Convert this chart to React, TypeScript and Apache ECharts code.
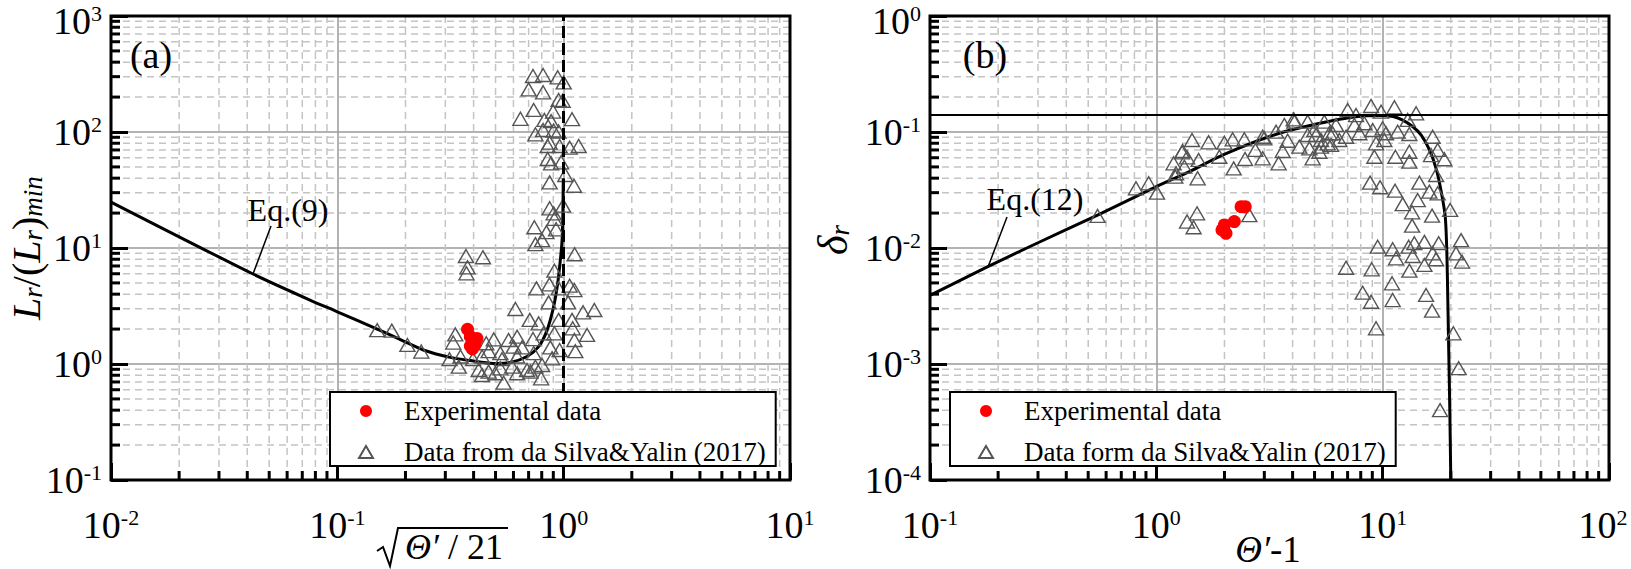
import React, { useEffect, useRef } from 'react';
import * as echarts from 'echarts';

const FONT = '"Liberation Serif", "Times New Roman", serif';

// ---------- Panel (a) ----------
const xRangeA = [0.01, 10];
const yRangeA = [0.1, 1000];
const curveA: [number, number][] = [
  [0.01, 24.9], [0.0424, 5.97], [0.0757, 3.56], [0.1, 2.82], [0.15, 2.0], [0.189, 1.63],
  [0.24, 1.32], [0.315, 1.14], [0.386, 1.07], [0.489, 1.01], [0.58, 1.03], [0.689, 1.16],
  [0.775, 1.41], [0.845, 1.96], [0.903, 3.12], [0.941, 4.97], [0.967, 7.9], [0.984, 11.7],
  [0.992, 20], [0.996, 40],
];
const expA: [number, number][] = [
  [0.376, 1.99], [0.387, 1.72], [0.4, 1.61], [0.414, 1.66], [0.407, 1.49], [0.387, 1.43], [0.395, 1.35],
];
const silvaA: [number, number][] = [
  [0.732, 304], [0.811, 310], [0.941, 296], [1.0, 268], [0.7, 233], [0.811, 220], [0.95, 189],
  [0.99, 186], [0.737, 155], [0.644, 130], [0.898, 150], [0.822, 127], [0.88, 124], [1.089, 129],
  [0.811, 104], [0.75, 95.5], [0.903, 103], [0.95, 101], [0.867, 80.9], [0.85, 75.7], [0.96, 75.7],
  [1.063, 73.2], [1.165, 75.7], [0.85, 58.5], [0.88, 53.7], [0.974, 54.8], [1.017, 42.6], [0.867, 36.8],
  [1.111, 34.4], [0.867, 22.0], [0.903, 19.9], [0.994, 23.2], [0.91, 17.8], [0.742, 15.1], [0.839, 13.7],
  [0.926, 14.5], [0.803, 11.7], [0.75, 10.8], [1.118, 8.83], [0.37, 8.53], [0.44, 8.32], [0.376, 6.82],
  [0.372, 6.05], [0.91, 6.37], [0.758, 4.49], [0.865, 4.86], [0.95, 4.49], [1.063, 4.73], [1.115, 4.34],
  [0.858, 3.4], [1.046, 3.4], [0.612, 2.98], [1.218, 2.79], [1.366, 2.92], [0.708, 2.4], [0.775, 2.24],
  [0.95, 2.4], [1.089, 2.4], [1.096, 2.03], [0.91, 1.84], [0.816, 1.84], [1.269, 1.78], [1.115, 1.61],
  [0.732, 1.64], [0.623, 1.72], [0.571, 1.61], [0.491, 1.63], [0.332, 1.8], [0.325, 1.53], [0.455, 1.51],
  [0.601, 1.41], [0.655, 1.39], [0.873, 1.39], [0.96, 1.32], [1.126, 1.29], [0.466, 1.29], [0.525, 1.24],
  [0.737, 1.24], [0.313, 1.1], [0.35, 1.16], [0.398, 1.1], [0.436, 1.16], [0.534, 1.1], [0.623, 1.16],
  [0.889, 1.12], [0.344, 0.948], [0.421, 0.888], [0.466, 0.859], [0.525, 0.918], [0.592, 0.948],
  [0.689, 0.888], [0.75, 0.948], [0.803, 0.98], [0.436, 0.804], [0.499, 0.832], [0.623, 0.832],
  [0.543, 0.69], [0.795, 0.753], [0.713, 0.859], [0.15, 1.96], [0.174, 1.94], [0.204, 1.46], [0.235, 1.28],
];
const asymptoteA = 1;

// ---------- Panel (b) ----------
const xRangeB = [0.1, 100];
const yRangeB = [0.0001, 1];
const curveB: [number, number][] = [
  [0.1, 0.0039], [0.18, 0.0069], [0.3, 0.0111], [0.55, 0.0192], [1.0, 0.0338], [1.4, 0.0455],
  [1.96, 0.0633], [3.5, 0.0975], [6.44, 0.1286], [8.45, 0.138], [9.67, 0.139], [11.1, 0.136],
  [12.2, 0.127], [13.6, 0.111], [14.8, 0.094], [16.1, 0.07], [17.3, 0.047], [18.2, 0.0296],
  [18.9, 0.0186], [19.2, 0.0096], [19.4, 0.0036], [19.6, 0.0012], [19.8, 0.0004], [20.0, 0.0001],
];
const expB: [number, number][] = [
  [2.368, 0.0227], [2.47, 0.0227], [2.211, 0.0169], [1.998, 0.0158], [2.032, 0.0134], [1.951, 0.0143],
];
const silvaB: [number, number][] = [
  [1.438, 0.0853], [1.702, 0.0815], [1.299, 0.0668], [1.367, 0.0605], [1.192, 0.0537], [1.538, 0.0574],
  [1.33, 0.0502], [1.213, 0.0412], [1.522, 0.0399], [0.813, 0.0327], [0.925, 0.0361], [1.007, 0.03],
  [0.55, 0.0189], [1.513, 0.0199], [1.367, 0.0169], [1.461, 0.0151], [1.307, 0.0686], [1.222, 0.0441],
  [1.998, 0.0809], [2.174, 0.0865], [2.448, 0.0865], [1.898, 0.0612], [2.196, 0.0486], [2.466, 0.0585],
  [2.739, 0.07], [2.95, 0.0593], [3.001, 0.0882], [3.381, 0.1006], [3.47, 0.0537], [3.615, 0.0686],
  [3.804, 0.0841], [4.072, 0.1227], [4.284, 0.0747], [4.662, 0.1227], [4.744, 0.0723], [4.905, 0.0593],
  [5.078, 0.0942], [5.343, 0.0853], [5.526, 0.1227], [5.715, 0.0799], [6.012, 0.0975], [6.223, 0.115],
  [5.251, 0.0676], [2.576, 0.0192], [2.95, 0.091], [3.678, 0.115], [4.044, 0.1286], [4.662, 0.0942],
  [4.991, 0.104], [5.815, 0.0975], [5.915, 0.0773], [5.343, 0.0747], [6.437, 0.0853], [7.004, 0.1548],
  [7.627, 0.14], [7.5, 0.115], [8.299, 0.119], [8.888, 0.1676], [9.838, 0.1496], [11.27, 0.1633],
  [14.05, 0.145], [6.891, 0.091], [7.889, 0.0975], [9.034, 0.104], [10.0, 0.1076], [10.35, 0.0975],
  [11.65, 0.1006], [12.9, 0.127], [13.12, 0.0961], [9.35, 0.0799], [10.17, 0.0853], [9.19, 0.0612],
  [11.38, 0.0612], [13.12, 0.0676], [13.12, 0.0555], [16.63, 0.091], [17.5, 0.07], [18.74, 0.0582],
  [16.36, 0.0633], [8.798, 0.0366], [9.739, 0.0334], [11.34, 0.0312], [14.53, 0.0366], [17.22, 0.0426],
  [16.08, 0.0306], [12.26, 0.0239], [14.28, 0.0259], [17.5, 0.0296], [13.49, 0.0203], [16.53, 0.019],
  [19.86, 0.0213], [13.49, 0.0156], [9.504, 0.01026], [11.07, 0.00975], [11.46, 0.00815], [13.03, 0.01026],
  [13.8, 0.011], [15.29, 0.0113], [17.68, 0.011], [16.63, 0.009], [15.29, 0.00714], [13.57, 0.00853],
  [13.12, 0.00637], [17.22, 0.008], [22.2, 0.0117], [21.1, 0.009], [22.43, 0.00762], [6.891, 0.00676],
  [8.94, 0.00655], [11.0, 0.00496], [8.16, 0.00412], [15.55, 0.00394], [8.888, 0.00344], [11.07, 0.00356],
  [16.53, 0.00288], [9.35, 0.00203], [20.53, 0.00184], [21.67, 0.00092], [17.93, 0.0004],
];
const limitB = 0.14;

// ---------- grid / ticks ----------
const MINOR = [2, 3, 4, 5, 6, 7, 8, 9];
const decadesXA = [0.01, 0.1, 1];
const decadesYA = [0.1, 1, 10, 100];
const decadesXB = [0.1, 1, 10];
const decadesYB = [0.0001, 0.001, 0.01, 0.1];

const GRID_A = { left: 111, top: 16, width: 679, height: 464 };
const GRID_B = { left: 930, top: 16, width: 679, height: 464 };

const NAME_A = 'Experimental data';
const SILVA_A = 'Data from da Silva&Yalin (2017)';
const SILVA_B = 'Data form da Silva&Yalin (2017)';

const minorVals = (decades: number[]) =>
  decades.flatMap((d) => MINOR.map((m) => +(m * d).toPrecision(3)));

const minorData = (dx: number[], dy: number[], xMin: number, yMin: number) => [
  ...minorVals(dx).map((v) => [v, yMin, 0]),
  ...minorVals(dy).map((v) => [xMin, v, 1]),
];

const renderMinor = (params: any, api: any) => {
  const cs = params.coordSys;
  const p = api.coord([api.value(0), api.value(1)]);
  const dash = { stroke: '#c4c4c4', lineWidth: 1.5, lineDash: [7, 5], fill: 'none' };
  const tick = { stroke: '#000', lineWidth: 3, fill: 'none' };
  if (api.value(2) === 0) {
    const x = p[0];
    const yb = cs.y + cs.height;
    return {
      type: 'group',
      children: [
        { type: 'line', shape: { x1: x, y1: cs.y, x2: x, y2: yb }, style: dash },
        { type: 'line', shape: { x1: x, y1: yb, x2: x, y2: yb - 9 }, style: tick },
      ],
    };
  }
  const y = p[1];
  return {
    type: 'group',
    children: [
      { type: 'line', shape: { x1: cs.x, y1: y, x2: cs.x + cs.width, y2: y }, style: dash },
      { type: 'line', shape: { x1: cs.x, y1: y, x2: cs.x + 9, y2: y }, style: tick },
    ],
  };
};

const expOf = (v: number) => Math.round(Math.log10(v));

// the top label of a y axis is nudged down, the right-most x label nudged left
const powLabel = (edgeValue: number | null, isX: boolean) => (v: number) => {
  const e = expOf(v);
  if (edgeValue !== null && e === expOf(edgeValue)) {
    return isX ? `{br|10}{sr|${e}}` : `{bt|10}{st|${e}}`;
  }
  return `{b|10}{s|${e}}`;
};

const labelRich = {
  b: { fontFamily: FONT, fontSize: 38, color: '#000' },
  s: { fontFamily: FONT, fontSize: 22, color: '#000', padding: [0, 0, 16, 0] },
  bt: { fontFamily: FONT, fontSize: 38, color: '#000', padding: [10, 0, 0, 0] },
  st: { fontFamily: FONT, fontSize: 22, color: '#000', padding: [0, 0, 6, 0] },
  br: { fontFamily: FONT, fontSize: 38, color: '#000' },
  sr: { fontFamily: FONT, fontSize: 22, color: '#000', padding: [0, 12, 16, 0] },
};

const logAxis = (gridIndex: number, range: number[], isX: boolean, nudgeEdge: boolean) => ({
  type: 'log',
  logBase: 10,
  gridIndex,
  min: range[0],
  max: range[1],
  axisLine: { show: false },
  axisTick: { show: true, inside: true, length: 17, lineStyle: { color: '#000', width: 3 } },
  axisLabel: {
    show: true,
    margin: isX ? 26 : 9,
    formatter: powLabel(nudgeEdge ? range[1] : null, isX),
    rich: labelRich,
    showMinLabel: true,
    showMaxLabel: true,
  },
  splitLine: { show: true, lineStyle: { color: '#9a9a9a', width: 1.5 } },
  minorTick: { show: false },
  minorSplitLine: { show: false },
});

const legendBase = {
  orient: 'vertical',
  itemWidth: 14,
  itemHeight: 12,
  itemGap: 13,
  padding: [5, 10, 0, 28],
  borderColor: '#000',
  borderWidth: 2,
  backgroundColor: '#fff',
  selectedMode: false,
  textStyle: { fontFamily: FONT, fontSize: 27, color: '#000', lineHeight: 28, padding: [0, 0, 0, 26] },
  z: 50,
};

const triStyle = { color: 'rgba(255,255,255,0)', borderColor: '#555', borderWidth: 1.4, opacity: 1 };
const redStyle = { color: '#ff0000', opacity: 1 };

const borderRect = (g: any) => ({
  type: 'rect',
  z: 100,
  silent: true,
  shape: { x: g.left, y: g.top, width: g.width, height: g.height },
  style: { fill: 'none', stroke: '#000', lineWidth: 3 },
});

const txt = (x: number, y: number, text: string, size: number, extra: any = {}) => ({
  type: 'text',
  x,
  y,
  z: 60,
  silent: true,
  ...extra,
  style: {
    text,
    fontFamily: FONT,
    fontSize: size,
    fill: '#000',
    align: 'center',
    verticalAlign: 'middle',
    ...(extra.style || {}),
  },
});

export default function App() {
  const ref = useRef<HTMLDivElement>(null);
  useEffect(() => {
    if (!ref.current) return;
    const chart = echarts.init(ref.current, undefined, { renderer: 'svg' });
    const option: any = {
      animation: false,
      backgroundColor: '#fff',
      grid: [
        { ...GRID_A, show: false, containLabel: false, outerBoundsMode: 'none' },
        { ...GRID_B, show: false, containLabel: false, outerBoundsMode: 'none' },
      ],
      xAxis: [logAxis(0, xRangeA, true, false), logAxis(1, xRangeB, true, true)],
      yAxis: [logAxis(0, yRangeA, false, true), logAxis(1, yRangeB, false, true)],
      legend: [
        { ...legendBase, left: 330, top: 392, data: [NAME_A, SILVA_A] },
        { ...legendBase, left: 950, top: 392, data: [NAME_A, SILVA_B] },
      ],
      series: [
        {
          type: 'custom',
          name: 'minorA',
          xAxisIndex: 0,
          yAxisIndex: 0,
          silent: true,
          z: 1,
          renderItem: renderMinor,
          data: minorData(decadesXA, decadesYA, xRangeA[0], yRangeA[0]),
        },
        {
          type: 'custom',
          name: 'minorB',
          xAxisIndex: 1,
          yAxisIndex: 1,
          silent: true,
          z: 1,
          renderItem: renderMinor,
          data: minorData(decadesXB, decadesYB, xRangeB[0], yRangeB[0]),
        },
        {
          type: 'line',
          name: 'Eq.(9)',
          xAxisIndex: 0,
          yAxisIndex: 0,
          data: curveA,
          symbol: 'none',
          smooth: 0.25,
          lineStyle: { color: '#000', width: 3 },
          z: 3,
          silent: true,
          markLine: {
            silent: true,
            symbol: 'none',
            label: { show: false },
            lineStyle: { color: '#000', width: 3, type: [12, 5] },
            data: [{ xAxis: asymptoteA }],
          },
        },
        {
          type: 'scatter',
          name: SILVA_A,
          xAxisIndex: 0,
          yAxisIndex: 0,
          data: silvaA,
          symbol: 'triangle',
          symbolSize: [15, 13],
          itemStyle: triStyle,
          z: 4,
        },
        {
          type: 'scatter',
          name: NAME_A,
          xAxisIndex: 0,
          yAxisIndex: 0,
          data: expA,
          symbol: 'circle',
          symbolSize: 13,
          itemStyle: redStyle,
          z: 5,
        },
        {
          type: 'line',
          name: 'Eq.(12)',
          xAxisIndex: 1,
          yAxisIndex: 1,
          data: curveB,
          symbol: 'none',
          smooth: 0.25,
          lineStyle: { color: '#000', width: 3 },
          z: 3,
          silent: true,
          markLine: {
            silent: true,
            symbol: 'none',
            label: { show: false },
            lineStyle: { color: '#000', width: 2, type: 'solid' },
            data: [{ yAxis: limitB }],
          },
        },
        {
          type: 'scatter',
          name: SILVA_B,
          xAxisIndex: 1,
          yAxisIndex: 1,
          data: silvaB,
          symbol: 'triangle',
          symbolSize: [15, 13],
          itemStyle: triStyle,
          z: 4,
        },
        {
          type: 'scatter',
          name: NAME_A,
          xAxisIndex: 1,
          yAxisIndex: 1,
          data: expB,
          symbol: 'circle',
          symbolSize: 13,
          itemStyle: redStyle,
          z: 5,
        },
      ],
      graphic: [
        borderRect(GRID_A),
        borderRect(GRID_B),
        txt(151, 55, '(a)', 38),
        txt(985, 55, '(b)', 38),
        txt(288, 210, 'Eq.(9)', 32),
        txt(1035, 199, 'Eq.(12)', 32),
        { type: 'line', z: 60, silent: true, shape: { x1: 271, y1: 226, x2: 253, y2: 274 }, style: { stroke: '#000', lineWidth: 1.5 } },
        { type: 'line', z: 60, silent: true, shape: { x1: 1007, y1: 217, x2: 988, y2: 267 }, style: { stroke: '#000', lineWidth: 1.5 } },
        // y-axis names
        txt(26, 248, '{i|L}{s|r}{n|/(}{i|L}{s|r}{n|)}{s|min}', 40, {
          rotation: Math.PI / 2,
          style: {
            rich: {
              i: { fontFamily: FONT, fontStyle: 'italic', fontSize: 40, fill: '#000' },
              n: { fontFamily: FONT, fontSize: 40, fill: '#000' },
              s: { fontFamily: FONT, fontStyle: 'italic', fontSize: 27, fill: '#000', padding: [14, 0, 0, 0] },
            },
          },
        }),
        txt(833, 240, '{i|δ}{s|r}', 40, {
          rotation: Math.PI / 2,
          style: {
            rich: {
              i: { fontFamily: FONT, fontStyle: 'italic', fontSize: 42, fill: '#000' },
              s: { fontFamily: FONT, fontStyle: 'italic', fontSize: 27, fill: '#000', padding: [14, 0, 0, 0] },
            },
          },
        }),
        // x-axis names
        txt(454, 547, '{i|Θ′}{n| / 21}', 36, {
          style: {
            rich: {
              i: { fontFamily: FONT, fontStyle: 'italic', fontSize: 36, fill: '#000' },
              n: { fontFamily: FONT, fontSize: 36, fill: '#000' },
            },
          },
        }),
        {
          type: 'polyline',
          z: 60,
          silent: true,
          shape: { points: [[377, 551], [383, 547], [390, 566], [398, 528], [508, 528]] },
          style: { stroke: '#000', lineWidth: 2, fill: 'none' },
        },
        txt(1268, 549, '{i|Θ′}{n|-1}', 37, {
          style: {
            rich: {
              i: { fontFamily: FONT, fontStyle: 'italic', fontSize: 37, fill: '#000' },
              n: { fontFamily: FONT, fontSize: 37, fill: '#000' },
            },
          },
        }),
      ],
    };
    chart.setOption(option);
    return () => chart.dispose();
  }, []);
  return (
    <div
      ref={ref}
      style={{ position: 'absolute', left: 0, top: 0, width: 1631, height: 569, background: '#fff' }}
    />
  );
}
